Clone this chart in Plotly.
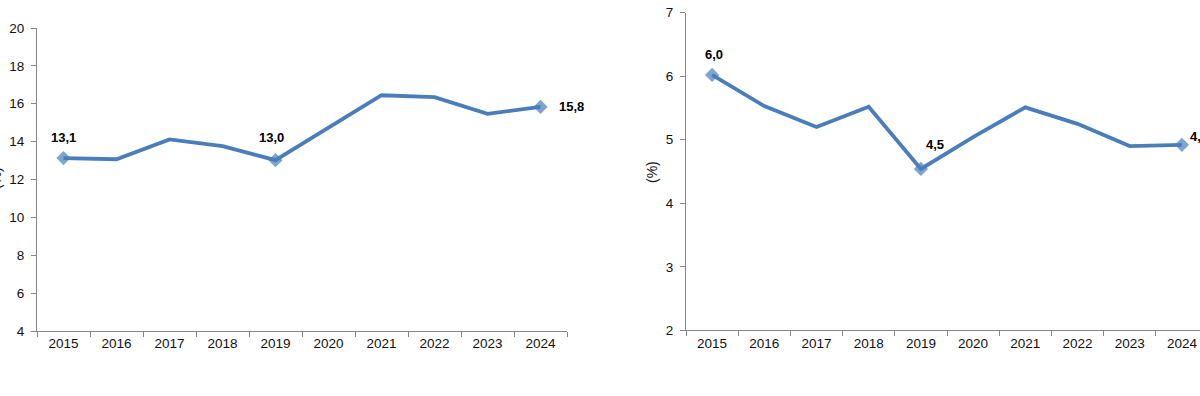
import plotly.graph_objects as go

years = ["2015", "2016", "2017", "2018", "2019", "2020", "2021", "2022", "2023", "2024"]
left_values = [13.13, 13.07, 14.12, 13.76, 13.02, 14.72, 16.45, 16.35, 15.47, 15.83]
right_values = [6.02, 5.53, 5.20, 5.52, 4.54, 5.04, 5.51, 5.25, 4.90, 4.92]
labeled_years = ["2015", "2019", "2024"]
# pixel offsets of the value labels relative to their points (x right, y up)
left_label_shift = {"2015": (0, 21), "2019": (-4, 23), "2024": (31, 0)}
right_label_shift = {"2015": (2, 20), "2019": (14, 24), "2024": (17, 8)}
y_title = "(%)"

LINE = "#4A7EBB"
AXIS = "#868686"
FONT = "Liberation Sans, Arial, sans-serif"
TXT = "#111111"


def fmt(v):
    return f"{v:.1f}".replace(".", ",")


def make_trace(values, xa, ya):
    sizes = [11 if y in labeled_years else 0 for y in years]
    return go.Scatter(
        x=years, y=values, mode="lines+markers",
        line=dict(color=LINE, width=3.8),
        marker=dict(symbol="diamond", size=sizes, color=LINE, line=dict(width=0)),
        xaxis=xa, yaxis=ya, showlegend=False, hoverinfo="skip",
        cliponaxis=False,
    )


def make_labels(values, shifts, xref, yref):
    out = []
    for i, (y, v) in enumerate(zip(years, values)):
        if y in labeled_years:
            dx, dy = shifts[y]
            out.append(dict(text=fmt(v), x=i, y=v, xref=xref, yref=yref,
                            xshift=dx, yshift=dy, showarrow=False,
                            xanchor="center", yanchor="middle",
                            font=dict(family=FONT, size=13, color="#000000",
                                      weight="bold")))
    return out


fig = go.Figure()
fig.add_trace(make_trace(left_values, "x", "y"))
fig.add_trace(make_trace(right_values, "x2", "y2"))

W, H = 1200, 396
xcommon = dict(type="category", tickson="boundaries", ticks="outside", ticklen=5,
               tickcolor=AXIS, showline=True, linecolor=AXIS, linewidth=1,
               showgrid=False, zeroline=False, automargin=False,
               tickfont=dict(family=FONT, size=13.5, color=TXT))
ycommon = dict(ticks="outside", ticklen=5, tickcolor=AXIS, showline=True,
               linecolor=AXIS, linewidth=1, showgrid=False, zeroline=False,
               automargin=False, ticklabelstandoff=4,
               tickfont=dict(family=FONT, size=13.5, color=TXT))

annotations = make_labels(left_values, left_label_shift, "x", "y")
annotations += make_labels(right_values, right_label_shift, "x2", "y2")
annotations += [
    dict(text=y_title, xref="paper", yref="paper", x=-4 / W, y=(H - 178) / H,
         textangle=-90, showarrow=False, xanchor="center", yanchor="middle",
         font=dict(family=FONT, size=14, color=TXT)),
    dict(text=y_title, xref="paper", yref="paper", x=652 / W, y=(H - 172) / H,
         textangle=-90, showarrow=False, xanchor="center", yanchor="middle",
         font=dict(family=FONT, size=14, color=TXT)),
]

fig.update_layout(
    width=W, height=H,
    margin=dict(l=0, r=0, t=0, b=0, autoexpand=False),
    paper_bgcolor="white", plot_bgcolor="white",
    xaxis=dict(domain=[37 / W, 567 / W], range=[-0.5, 9.5], anchor="y",
               categoryorder="array", categoryarray=years, **xcommon),
    yaxis=dict(domain=[(H - 331) / H, (H - 28) / H], range=[4, 20], dtick=2,
               anchor="x", **ycommon),
    xaxis2=dict(domain=[686 / W, 1.0], range=[-0.5, -0.5 + 514 / 52.2], anchor="y2",
                categoryorder="array", categoryarray=years, **xcommon),
    yaxis2=dict(domain=[(H - 330.3) / H, (H - 12.7) / H], range=[2, 7], dtick=1,
                anchor="x2", **ycommon),
    annotations=annotations,
)

fig.write_html("out.html", config={"displayModeBar": False},
               post_script="document.body.style.margin='0';document.body.style.overflow='hidden';")
